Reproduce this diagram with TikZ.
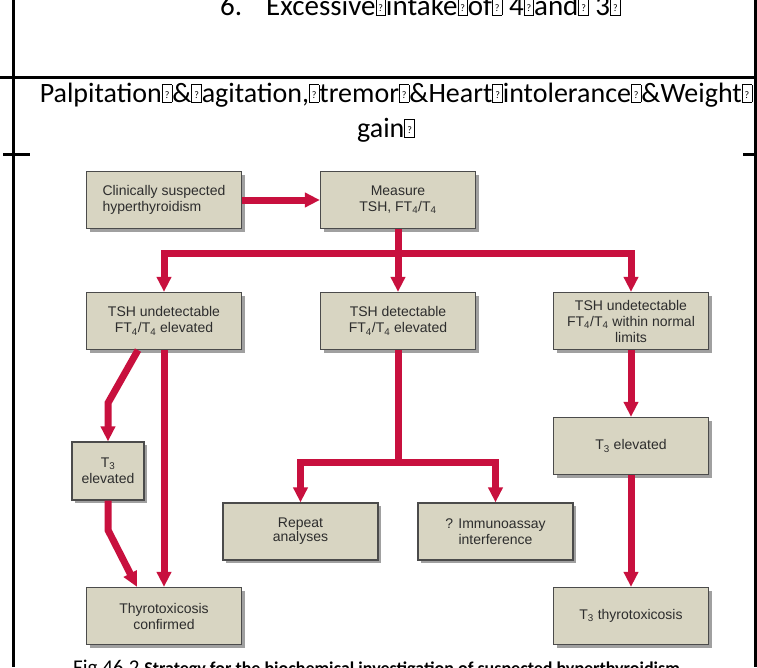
\documentclass[tikz,border=0pt]{standalone}
\usepackage{fontspec}
\setmainfont{Carlito}
\newfontfamily\flowfont{Liberation Sans}
\usetikzlibrary{arrows.meta,shadows}

\definecolor{flowred}{RGB}{200,16,62}
\definecolor{boxfill}{RGB}{216,213,194}
\definecolor{boxline}{RGB}{75,75,75}
\definecolor{boxtext}{RGB}{45,45,45}
\definecolor{shadowgray}{RGB}{160,160,160}

% box that stands for a glyph the font lacks
\newcommand{\nog}{\raisebox{0pt}{\fboxsep=0pt\fboxrule=0.7pt\fbox{\makebox[9pt]{\rule{0pt}{17pt}\raisebox{4pt}{\fontsize{10}{10}\selectfont ?}}}}}

\begin{document}
\begin{tikzpicture}[x=1pt,y=-1pt,
  box/.style={draw=boxline, fill=boxfill, line width=1.2pt, text=boxtext,
    minimum width=155pt, minimum height=57pt, inner sep=2pt, align=center,
    font=\flowfont\fontsize{14}{16}\selectfont,
    drop shadow={shadow xshift=3pt, shadow yshift=-3pt, fill=shadowgray, opacity=1}},
  flow/.style={draw=flowred, line width=7pt, -{Triangle[length=15pt,width=14pt]}},
  both/.style={draw=flowred, line width=7pt, {Triangle[length=15pt,width=14pt]}-{Triangle[length=15pt,width=14pt]}}]

\clip (0,0) rectangle (757,667);
\fill[white] (0,0) rectangle (757,667);

% Table rules
\draw[line width=3pt] (13,0) -- (13,667);
\draw[line width=3pt] (755,0) -- (755,667);
\draw[line width=3pt] (0,77) -- (757,77);
\draw[line width=3pt] (3,154) -- (30,154);
\draw[line width=3pt] (743,154) -- (757,154);

% Table text
\node[anchor=base west, inner sep=0, font=\fontsize{29}{29}\selectfont] (item6) at (220,15)
  {6.\hspace{24pt}Excessive\nog intake\nog of\nog\ 4\nog and\nog\ 3\nog};
\node[anchor=base, inner sep=0, font=\fontsize{28}{28}\selectfont] (sympA) at (396,102)
  {Palpitation\nog\&\nog agitation,\nog tremor\nog\&Heart\nog intolerance\nog\&Weight\nog};
\node[anchor=base, inner sep=0, font=\fontsize{28}{28}\selectfont] (sympB) at (386,137) {gain\nog};

% Boxes
\node[box, align=left] (susp) at (164,200) {Clinically suspected\\hyperthyroidism};
\node[box] (meas) at (398,200) {Measure\\TSH, FT\textsubscript{4}/T\textsubscript{4}};
\node[box] (undet) at (164,321) {TSH undetectable\\FT\textsubscript{4}/T\textsubscript{4} elevated};
\node[box] (det) at (398,321) {TSH detectable\\FT\textsubscript{4}/T\textsubscript{4} elevated};
\node[box] (norm) at (631,321) {TSH undetectable\\FT\textsubscript{4}/T\textsubscript{4} within normal\\limits};
\node[box, minimum width=72pt, minimum height=58pt] (tthree) at (108,471) {T\textsubscript{3}\\elevated};
\node[box] (conf) at (164,616) {Thyrotoxicosis\\confirmed};
\node[box, font=\flowfont\fontsize{14}{14}\selectfont] (rep) at (300.5,531.5) {Repeat\\analyses};
\node[box] (immuno) at (495.5,531.5) {? Immunoassay\\interference};
\node[box] (tthreeb) at (631,446) {T\textsubscript{3} elevated};
\node[box] (tox) at (631,616) {T\textsubscript{3} thyrotoxicosis};

% Connectors
\coordinate (bar) at (398,253);
\coordinate (fork) at (398,462);
\coordinate (kneeA) at (108,403);
\coordinate (kneeB) at (108,530);

\draw[flow] (susp) -- (meas);
\draw[flow] (meas) -- (det);
\draw[both] (undet.north) |- (bar) -| (norm.north);
\draw[flow] (undet.south) -- (conf.north);
\draw[flow] ([xshift=-26pt]undet.south) -- (kneeA) -- (tthree.north);
\draw[flow] (tthree.south) -- (kneeB) -- ([xshift=-27pt]conf.north);
\draw[flow, -] (det.south) -- (fork);
\draw[both] (rep.north) |- (fork) -| (immuno.north);
\draw[flow] (norm) -- (tthreeb);
\draw[flow] (tthreeb) -- (tox);

% Caption
\node[anchor=base west, inner sep=0] (caption) at (73,674)
  {\fontsize{21}{21}\selectfont Fig 46.2 \fontsize{18}{18}\selectfont\bfseries Strategy for the biochemical investigation of suspected hyperthyroidism};

\end{tikzpicture}
\end{document}
